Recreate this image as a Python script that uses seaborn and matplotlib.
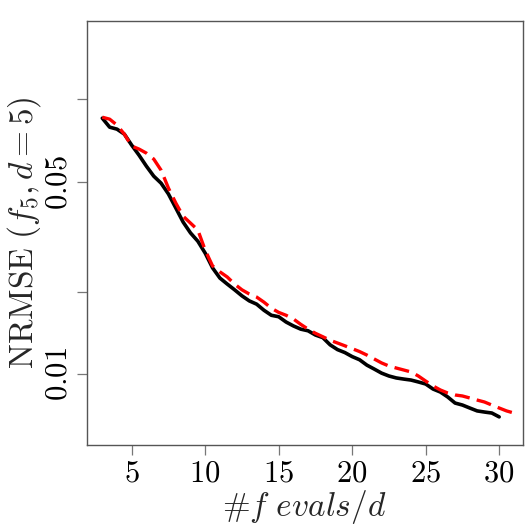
import matplotlib
matplotlib.use("Agg")
import matplotlib.pyplot as plt
import seaborn as sns
import numpy as np
import pandas as pd
from matplotlib.ticker import FixedLocator, FixedFormatter, NullLocator

x_black = [3.0, 3.5, 4.0, 4.5, 5.0, 5.5, 6.0, 6.5, 7.0, 7.5, 8.0, 8.5, 9.0, 9.5, 10.0,
           10.5, 11.0, 11.5, 12.0, 12.5, 13.0, 13.5, 14.0, 14.5, 15.0, 15.5, 16.0, 16.5,
           17.0, 17.5, 18.0, 18.5, 19.0, 19.5, 20.0, 20.5, 21.0, 21.5, 22.0, 22.5, 23.0,
           23.5, 24.0, 24.5, 25.0, 25.5, 26.0, 26.5, 27.0, 27.5, 28.0, 28.5, 29.0, 29.5, 30.0]
y_black = [0.0855, 0.0793, 0.0780, 0.0748, 0.0682, 0.0627, 0.0572, 0.0526, 0.0496, 0.0453,
           0.0403, 0.0358, 0.0327, 0.0305, 0.0276, 0.0244, 0.0224, 0.0213, 0.0203, 0.0193,
           0.0185, 0.0180, 0.0171, 0.0164, 0.0162, 0.0155, 0.0150, 0.0146, 0.0144, 0.0139,
           0.0136, 0.0128, 0.0123, 0.0120, 0.0116, 0.0113, 0.0108, 0.01045, 0.0101, 0.00986,
           0.00970, 0.00961, 0.00953, 0.00938, 0.00922, 0.00884, 0.00862, 0.00827, 0.00786,
           0.00773, 0.00754, 0.00736, 0.00729, 0.00723, 0.00700]

x_red = [3.0, 3.5, 4.0, 4.5, 5.0, 5.5, 6.0, 6.5, 7.0, 7.5, 8.0, 8.5, 9.0, 9.5, 10.0,
         10.5, 11.0, 11.5, 12.0, 12.5, 13.0, 13.5, 14.0, 14.5, 15.0, 15.5, 16.0, 16.5,
         17.0, 17.5, 18.0, 18.5, 19.0, 19.5, 20.0, 20.5, 21.0, 21.5, 22.0, 22.5, 23.0,
         23.5, 24.0, 24.5, 25.0, 25.5, 26.0, 26.5, 27.0, 27.5, 28.0, 28.5, 29.0, 29.5,
         30.0, 30.5, 31.0]
y_red = [0.0862, 0.0848, 0.0807, 0.0748, 0.0677, 0.0660, 0.0638, 0.0607, 0.0553, 0.0476,
         0.0420, 0.0376, 0.0355, 0.0335, 0.0283, 0.0248, 0.0236, 0.0226, 0.0213, 0.0203,
         0.0196, 0.0191, 0.0183, 0.0174, 0.0168, 0.0164, 0.0159, 0.0152, 0.0146, 0.0141,
         0.0137, 0.0133, 0.0130, 0.0127, 0.0124, 0.0121, 0.01175, 0.01137, 0.0110, 0.01072,
         0.01054, 0.01037, 0.0102, 0.00986, 0.00945, 0.00907, 0.00877, 0.00855, 0.00841,
         0.00834, 0.00820, 0.00806, 0.00793, 0.00773, 0.00754, 0.00736, 0.00723]

x_ticks = [5, 10, 15, 20, 25, 30]
x_tick_labels = ["5", "10", "15", "20", "25", "30"]
y_ticks = [0.01, 0.02, 0.05, 0.1]
y_tick_labels = ["0.01", "", "0.05", ""]

sns.set_style("white")
plt.rcParams["mathtext.fontset"] = "cm"
plt.rcParams["font.family"] = ["cmr10", "DejaVu Serif"]
plt.rcParams["axes.unicode_minus"] = False

fig = plt.figure(figsize=(5.32, 5.32), dpi=100)
ax = fig.add_axes([0.163, 0.1635, 0.8195, 0.797])

df_b = pd.DataFrame({"x": x_black, "y": y_black})
df_r = pd.DataFrame({"x": x_red, "y": y_red})
sns.lineplot(data=df_b, x="x", y="y", ax=ax, color="black", linewidth=2.6,
             estimator=None, sort=False)
sns.lineplot(data=df_r, x="x", y="y", ax=ax, color="#ff0000", linewidth=2.4,
             estimator=None, sort=False, dashes=False)
ax.lines[1].set_dashes([4.5, 2.2])

ax.set_yscale("log")
ax.set_xlim(1.94, 31.6)
ax.set_ylim(0.00553, 0.193)

ax.xaxis.set_major_locator(FixedLocator(x_ticks))
ax.xaxis.set_major_formatter(FixedFormatter(["$%s$" % t for t in x_tick_labels]))
ax.yaxis.set_major_locator(FixedLocator(y_ticks))
ax.yaxis.set_major_formatter(FixedFormatter(["$%s$" % t if t else "" for t in y_tick_labels]))
ax.yaxis.set_minor_locator(NullLocator())
ax.xaxis.set_minor_locator(NullLocator())

for s in ax.spines.values():
    s.set_color("#555555")
    s.set_linewidth(1.0)
    s.set_visible(True)

ax.tick_params(axis="both", direction="out", length=7, width=0.9, color="#777777",
               labelsize=22, labelcolor="black")
ax.tick_params(axis="x", pad=4, bottom=True)
ax.tick_params(axis="y", pad=3, left=True)
for lab in ax.get_yticklabels():
    lab.set_rotation(90)
    lab.set_va("center")

ax.set_xlabel("#" + r"$f\ evals/d$", fontsize=24, labelpad=0)
ax.set_ylabel(r"$\mathrm{NRMSE}\ (f_5, d=5)$", fontsize=24, labelpad=2)

fig.savefig("out.png", dpi=100, facecolor="white")
